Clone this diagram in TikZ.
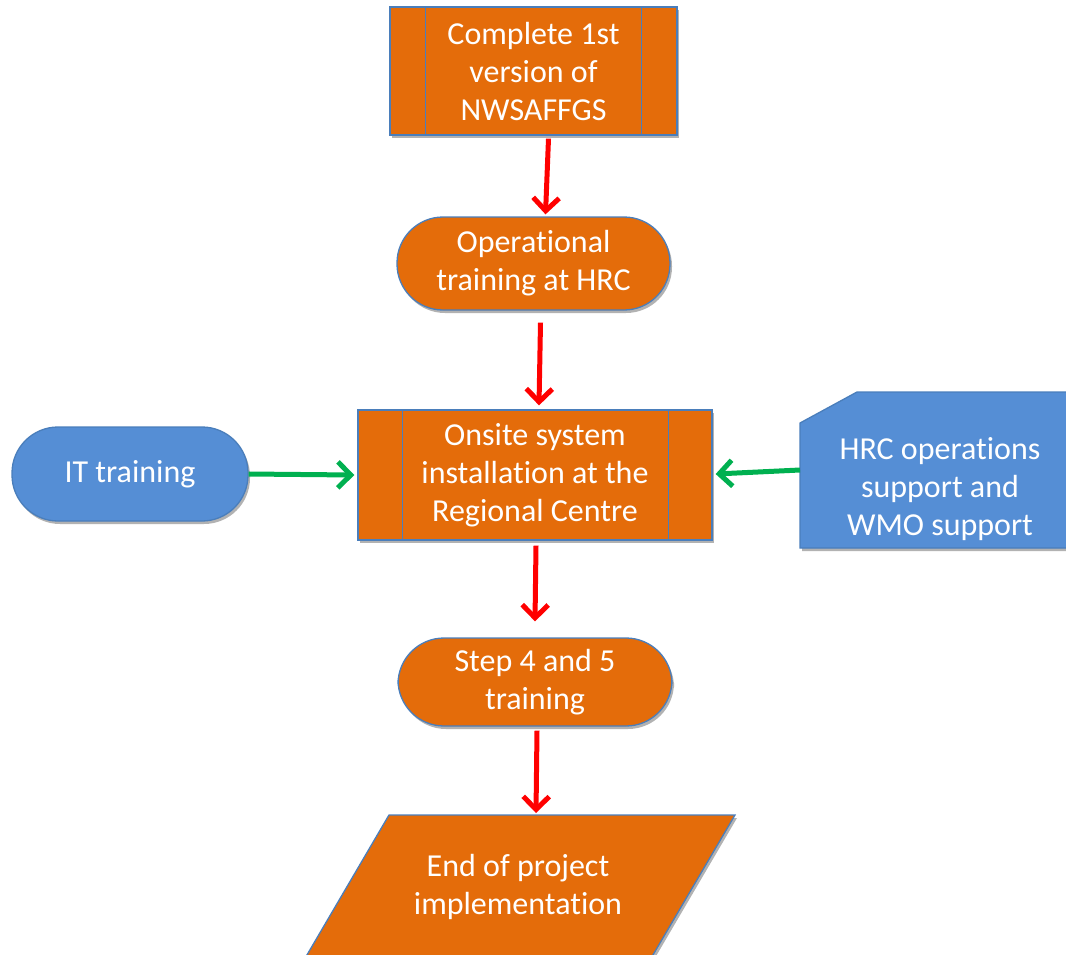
\documentclass[tikz,border=0pt]{standalone}
\usepackage{fontspec}
\setmainfont[Ligatures=NoCommon]{Carlito}
\usetikzlibrary{arrows.meta,shadows,calc}
\definecolor{orng}{HTML}{E46C0A}
\definecolor{bluef}{HTML}{558ED5}
\definecolor{edgeb}{HTML}{4A7EBB}
\definecolor{redarr}{HTML}{FF0000}
\definecolor{grnarr}{HTML}{00B050}
\tikzset{
  txt/.style={text=white, align=center, font=\fontsize{32}{38}\selectfont},
  shd/.style={drop shadow={shadow xshift=2pt, shadow yshift=-3pt, opacity=0.3, fill=black}},
  procbox/.style={txt, draw=edgeb, line width=1.3pt, fill=orng, shd, rectangle},
  termo/.style={txt, draw=edgeb, line width=1.3pt, fill=orng, shd, rectangle, rounded corners=46pt},
  termb/.style={txt, draw=edgeb, line width=1.3pt, fill=bluef, shd, rectangle, rounded corners=46pt},
  inner/.style={draw=edgeb, line width=1.3pt},
  redline/.style={draw=redarr, line width=5pt, -{Straight Barb[length=13pt, width=26pt, line width=5pt]}},
  grnline/.style={draw=grnarr, line width=5pt, -{Straight Barb[length=13pt, width=26pt, line width=5pt]}},
}
\begin{document}
\begin{tikzpicture}[x=1pt, y=-1pt]
\useasboundingbox (0,0) rectangle (1066,954);

% 1 predefined process
\node[procbox, minimum width=287pt, minimum height=128pt] (n1) at (533.5,71) {Complete 1st\\version of\\NWSAFFGS};
\draw[inner] ([xshift=36pt]n1.north west) -- ([xshift=36pt]n1.south west);
\draw[inner] ([xshift=-36pt]n1.north east) -- ([xshift=-36pt]n1.south east);

% 2 operational training
\node[termo, minimum width=273pt, minimum height=93pt] (n2) at (533.5,263.5) {Operational\\training at HRC};

% 3 onsite installation
\node[procbox, minimum width=354pt, minimum height=130pt] (n3) at (535,475) {Onsite system\\installation at the\\Regional Centre};
\draw[inner] ([xshift=45pt]n3.north west) -- ([xshift=45pt]n3.south west);
\draw[inner] ([xshift=-44pt]n3.north east) -- ([xshift=-44pt]n3.south east);

% IT training
\node[termb, minimum width=236pt, minimum height=94pt] (it) at (130,474) {IT training};

% card
\path[fill=bluef, draw=edgeb, line width=1.3pt, shd] (800,423) -- (857,392) -- (1075,392) -- (1075,548) -- (800,548) -- cycle;
\node[txt] (hrc) at (940,489) {HRC operations\\support and\\WMO support};
\coordinate (hrcw) at (800,470);

% step 4 and 5
\node[termo, minimum width=274pt, minimum height=88pt] (n4) at (535,682) {Step 4 and 5\\training};

% parallelogram
\path[fill=orng, draw=edgeb, line width=1.3pt, shd] (389,815) -- (735,815) -- (650,960) -- (304,960) -- cycle;
\node[txt] (n5) at (518,887) {End of project\\implementation};
\coordinate (n5top) at (536,813);

% arrows
\draw[redline] ([xshift=15pt,yshift=-3pt]n1.south) -- ([xshift=12pt,yshift=2pt]n2.north);
\draw[redline] ([xshift=7pt,yshift=-12pt]n2.south) -- ([xshift=4pt,yshift=4pt]n3.north);
\draw[redline] ([xshift=1pt,yshift=-5pt]n3.south) -- ([yshift=16pt]n4.north);
\draw[redline] ([xshift=2pt,yshift=-4pt]n4.south) -- (n5top);
\draw[grnline] (it.east) -- ([xshift=-3pt]n3.west);
\draw[grnline] (hrcw) -- ([xshift=3pt,yshift=1pt]n3.east);
\end{tikzpicture}
\end{document}
